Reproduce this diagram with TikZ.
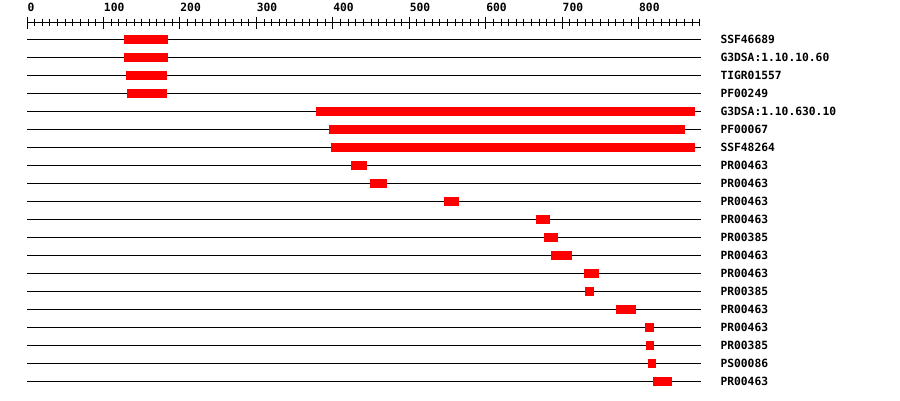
\documentclass[tikz,border=0pt]{standalone}
\usepackage{fontspec}
\newfontfamily\monof{DejaVu Sans Mono}
\begin{document}
\begin{tikzpicture}[x=1pt,y=-1pt,line width=1pt,
  lbl/.style={anchor=base west,inner sep=0pt,font=\monof\bfseries\fontsize{11.3}{13}\selectfont},
  ticklbl/.style={anchor=base west,inner sep=0pt,font=\monof\bfseries\fontsize{11.3}{13}\selectfont},
  hit/.style={fill=red,draw=none}]
\useasboundingbox (0,0) rectangle (900,400);
\fill[white] (0,0) rectangle (900,400);
% axis
\coordinate (ax0) at (27,22);
\coordinate (ax1) at (700,22);
\draw (ax0) -- (ax1);
\foreach \i in {0,...,88} \draw (27+\i*7.646,18.5) -- (27+\i*7.646,25.5);
\foreach \k in {0,...,8} {
  \draw (27+\k*76.46,16.5) -- (27+\k*76.46,29);
  \pgfmathtruncatemacro{\v}{\k*100}
  \node[ticklbl] (t\k) at (27+\k*76.46,11.8) {\v};
}
% rows
\foreach \r/\a/\b/\t in {
  1/124/168/SSF46689,
  2/124/168/G3DSA:1.10.10.60,
  3/126/167/TIGR01557,
  4/127/167/PF00249,
  5/316/695/G3DSA:1.10.630.10,
  6/329/685/PF00067,
  7/331/695/SSF48264,
  8/351/367/PR00463,
  9/370/387/PR00463,
  10/444/459/PR00463,
  11/536/550/PR00463,
  12/544/558/PR00385,
  13/551/572/PR00463,
  14/584/599/PR00463,
  15/585/594/PR00385,
  16/616/636/PR00463,
  17/645/654/PR00463,
  18/646/654/PR00385,
  19/648/656/PS00086,
  20/653/672/PR00463} {
  \pgfmathsetmacro{\yy}{39.3+(\r-1)*18}
  \coordinate (l\r) at (27,\yy);
  \coordinate (r\r) at (701,\yy);
  \draw (l\r) -- (r\r);
  \fill[hit] (\a,\yy-4.5) rectangle (\b,\yy+4.5);
  \node[lbl] (n\r) at (720,\yy+4.4) {\t};
}
\end{tikzpicture}
\end{document}
